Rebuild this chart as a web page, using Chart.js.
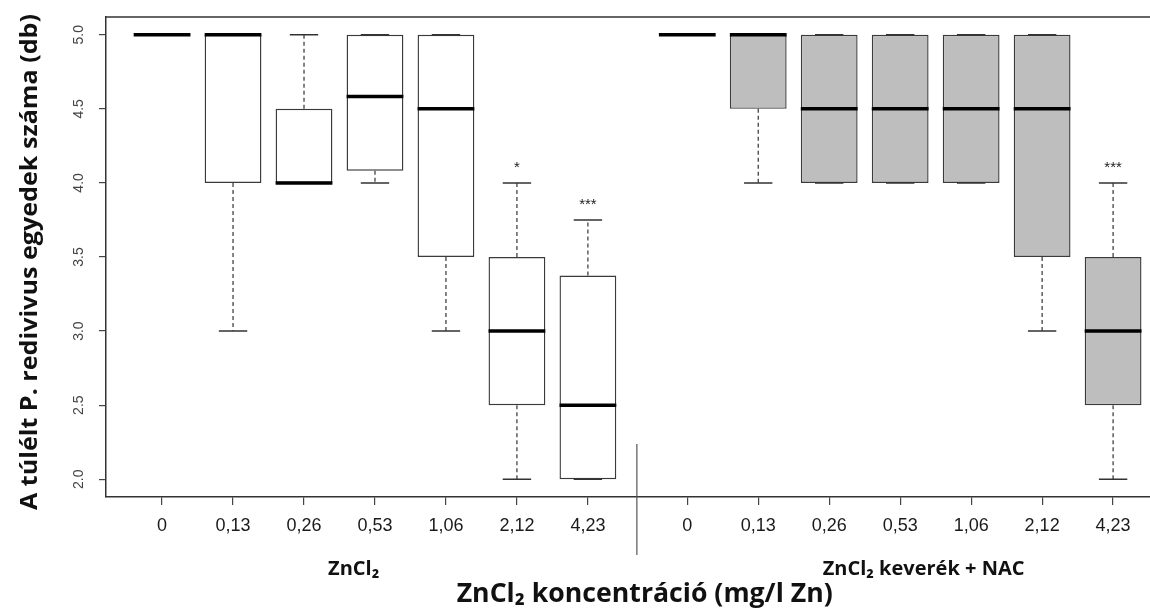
<!DOCTYPE html>
<html>
<head>
<meta charset="utf-8">
<script src="https://cdn.jsdelivr.net/npm/chart.js@4.4.1/dist/chart.umd.min.js"></script>
<style>
  html, body { margin: 0; padding: 0; background: #fff; }
  #wrap { width: 1150px; height: 608px; }
</style>
</head>
<body>
<div id="wrap"><canvas id="c" width="1150" height="608"></canvas></div>
<script>
// dose labels (mg/l Zn), same in both groups
var doses = ['0', '0,13', '0,26', '0,53', '1,06', '2,12', '4,23'];
var groupNames = ['ZnCl₂', 'ZnCl₂ keverék + NAC'];
var xTitle = 'ZnCl₂ koncentráció (mg/l Zn)';
var yTitle = 'A túlélt P. redivivus egyedek száma (db)';
var yTicks = [2, 2.5, 3, 3.5, 4, 4.5, 5];

// five numbers: min, q1, median, q3, max
var znMin = [5, 3, 4, 4, 3, 2, 2];
var znQ1  = [5, 4, 4, 4.083, 3.5, 2.5, 2];
var znMed = [5, 5, 4, 4.583, 4.5, 3, 2.5];
var znQ3  = [5, 5, 4.5, 5, 5, 3.5, 3.375];
var znMax = [5, 5, 5, 5, 5, 4, 3.75];
var znSig = ['', '', '', '', '', '*', '***'];

var nacMin = [5, 4, 4, 4, 4, 3, 2];
var nacQ1  = [5, 4.5, 4, 4, 4, 3.5, 2.5];
var nacMed = [5, 5, 4.5, 4.5, 4.5, 4.5, 3];
var nacQ3  = [5, 5, 5, 5, 5, 5, 3.5];
var nacMax = [5, 5, 5, 5, 5, 5, 4];
var nacSig = ['', '', '', '', '', '', '***'];

var groups = [
  { min: znMin, q1: znQ1, med: znMed, q3: znQ3, max: znMax, sig: znSig, fill: '#ffffff', start: 1 },
  { min: nacMin, q1: nacQ1, med: nacMed, q3: nacQ3, max: nacMax, sig: nacSig, fill: '#bebebe', start: 8.4 }
];

var positions = [];
groups.forEach(function (g) {
  doses.forEach(function (d, i) { positions.push(g.start + i); });
});

var TICK_FONT = '"Liberation Sans", Arial, sans-serif';
var TITLE_FONT = '"Open Sans", "Noto Sans", sans-serif';

// draw centred text squeezed/stretched to a given width (the original used a narrower font)
function fitText(ctx, text, cx, cy, width, rot) {
  var w = ctx.measureText(text).width;
  ctx.save();
  ctx.translate(cx, cy);
  if (rot) ctx.rotate(rot);
  ctx.scale(width / w, 1);
  ctx.textAlign = 'center';
  ctx.fillText(text, 0, 0);
  ctx.restore();
}

// whiskers, medians, staples, stars and the hand-placed texts
var boxExtras = {
  id: 'boxExtras',
  afterDatasetsDraw: function (chart) {
    var ctx = chart.ctx, xs = chart.scales.x, ys = chart.scales.y;
    ctx.save();
    groups.forEach(function (g) {
      doses.forEach(function (d, i) {
        var p = g.start + i;
        var cx = xs.getPixelForValue(p);
        var hw = xs.getPixelForValue(p + 0.4) - cx;
        var sw = xs.getPixelForValue(p + 0.2) - cx;
        // dashed whiskers
        ctx.strokeStyle = '#333';
        ctx.lineWidth = 1.2;
        ctx.setLineDash([4, 3]);
        ctx.beginPath();
        if (g.max[i] > g.q3[i]) {
          ctx.moveTo(cx, ys.getPixelForValue(g.q3[i]));
          ctx.lineTo(cx, ys.getPixelForValue(g.max[i]));
        }
        if (g.min[i] < g.q1[i]) {
          ctx.moveTo(cx, ys.getPixelForValue(g.q1[i]));
          ctx.lineTo(cx, ys.getPixelForValue(g.min[i]));
        }
        ctx.stroke();
        ctx.setLineDash([]);
        // staples
        ctx.lineWidth = 1.4;
        ctx.beginPath();
        [g.min[i], g.max[i]].forEach(function (v) {
          var y = ys.getPixelForValue(v);
          ctx.moveTo(cx - sw, y);
          ctx.lineTo(cx + sw, y);
        });
        ctx.stroke();
        // median
        ctx.strokeStyle = '#000';
        ctx.lineWidth = 3.5;
        ctx.beginPath();
        var ym = ys.getPixelForValue(g.med[i]);
        ctx.moveTo(cx - hw, ym);
        ctx.lineTo(cx + hw, ym);
        ctx.stroke();
        // significance stars
        if (g.sig[i]) {
          ctx.fillStyle = '#222';
          ctx.font = '15px ' + TICK_FONT;
          ctx.textAlign = 'center';
          ctx.textBaseline = 'alphabetic';
          ctx.fillText(g.sig[i], cx, ys.getPixelForValue(g.max[i]) - 11);
        }
      });
    });
    ctx.restore();
  },
  afterDraw: function (chart) {
    var ctx = chart.ctx, xs = chart.scales.x, ys = chart.scales.y, a = chart.chartArea;
    ctx.save();
    // top of the frame
    ctx.strokeStyle = '#333';
    ctx.lineWidth = 1.5;
    ctx.beginPath();
    ctx.moveTo(a.left, a.top);
    ctx.lineTo(a.right, a.top);
    ctx.stroke();

    // y tick labels, rotated as in R
    ctx.fillStyle = '#444';
    ctx.font = '14px ' + TICK_FONT;
    ctx.textAlign = 'center';
    ctx.textBaseline = 'middle';
    ys.ticks.forEach(function (t) {
      ctx.save();
      ctx.translate(a.left - 27, ys.getPixelForValue(t.value));
      ctx.rotate(-Math.PI / 2);
      ctx.fillText(t.value.toFixed(1), 0, 0);
      ctx.restore();
    });

    ctx.fillStyle = '#111';
    ctx.textBaseline = 'alphabetic';

    // y title
    ctx.font = 'bold 24px ' + TITLE_FONT;
    fitText(ctx, yTitle, 37, 262, 496, -Math.PI / 2);

    // divider between the two groups
    var dx = xs.getPixelForValue(7.69);
    ctx.strokeStyle = '#555';
    ctx.lineWidth = 1.2;
    ctx.beginPath();
    ctx.moveTo(dx, 444);
    ctx.lineTo(dx, 555);
    ctx.stroke();

    // group names
    ctx.font = 'bold 20px ' + TITLE_FONT;
    ctx.textAlign = 'center';
    ctx.fillText(groupNames[0], xs.getPixelForValue(3.7), 575);
    ctx.fillText(groupNames[1], xs.getPixelForValue(11.73), 575);

    // x title
    ctx.font = 'bold 27px ' + TITLE_FONT;
    fitText(ctx, xTitle, xs.getPixelForValue(7.8), 602, 376);
    ctx.restore();
  }
};

function boxData(g) {
  return doses.map(function (d, i) {
    return { x: g.start + i, y: g.q1[i] < g.q3[i] ? [g.q1[i], g.q3[i]] : null };
  });
}

new Chart(document.getElementById('c'), {
  type: 'bar',
  data: {
    datasets: groups.map(function (g, k) {
      return {
        label: groupNames[k],
        data: boxData(g),
        backgroundColor: g.fill,
        borderColor: '#3a3a3a',
        borderWidth: 1.4,
        borderSkipped: false,
        grouped: false,
        categoryPercentage: 1,
        barPercentage: 0.8
      };
    })
  },
  options: {
    responsive: false,
    animation: false,
    layout: { padding: { top: 17, right: 0, bottom: 0, left: 0 } },
    plugins: { legend: { display: false }, tooltip: { enabled: false } },
    scales: {
      x: {
        type: 'linear',
        min: 0.21,
        max: 14.92,
        offset: false,
        afterBuildTicks: function (s) {
          s.ticks = positions.map(function (v) { return { value: v }; });
        },
        afterFit: function (s) { s.height = 111; },
        ticks: {
          autoSkip: false,
          maxRotation: 0,
          padding: 10,
          color: '#1a1a1a',
          font: { family: TICK_FONT, size: 18 },
          callback: function (v, i) { return doses[i % doses.length]; }
        },
        grid: { offset: false, drawOnChartArea: false, drawTicks: true, tickLength: 8, color: '#444', lineWidth: 1.2 },
        border: { display: true, color: '#333', width: 1.5 }
      },
      y: {
        type: 'linear',
        min: 1.88,
        max: 5.12,
        afterBuildTicks: function (s) {
          s.ticks = yTicks.map(function (v) { return { value: v }; });
        },
        afterFit: function (s) { s.width = 106; },
        ticks: { display: false },
        grid: { drawOnChartArea: false, drawTicks: true, tickLength: 7, color: '#444', lineWidth: 1.2 },
        border: { display: true, color: '#333', width: 1.5 }
      }
    }
  },
  plugins: [boxExtras]
});
</script>
</body>
</html>
